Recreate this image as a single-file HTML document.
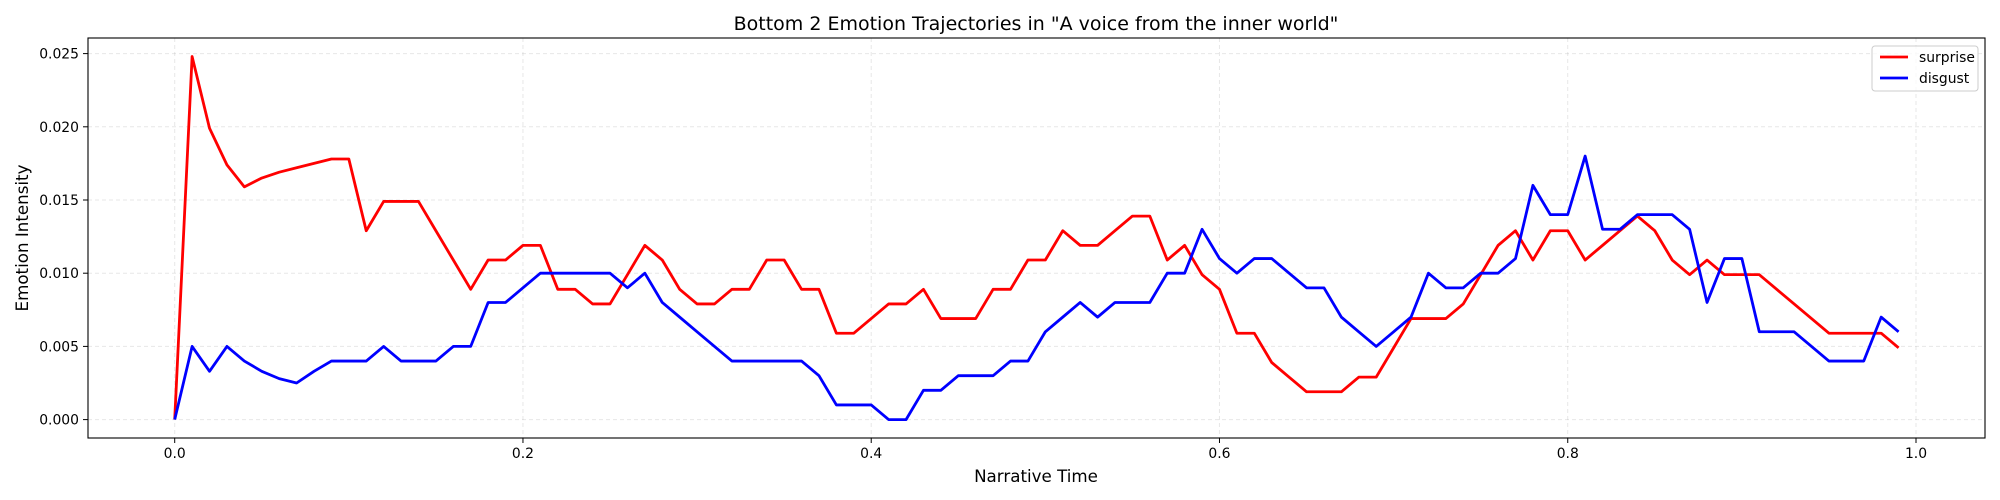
<!DOCTYPE html>
<html><head><meta charset="utf-8"><style>
body{margin:0;background:#fff}
svg{display:block;font-family:"DejaVu Sans","Liberation Sans",sans-serif}
</style></head><body>
<svg id="chart" width="2000" height="500">
<rect width="2000" height="500" fill="#fff"/>
<g id="grid"></g>
<g id="series"></g>
<rect x="88" y="38" width="1897" height="400" fill="none" stroke="#000" stroke-width="1.1"/>
<g id="ticks"></g>
<text x="1036" y="30" font-size="19" text-anchor="middle">Bottom 2 Emotion Trajectories in "A voice from the inner world"</text>
<text x="1036" y="482" font-size="16.7" text-anchor="middle">Narrative Time</text>
<text x="0" y="0" font-size="16.7" text-anchor="middle" transform="translate(28,238) rotate(-90)">Emotion Intensity</text>
<g>
<rect x="1872" y="46" width="106" height="45" rx="3" fill="#fff" fill-opacity="0.8" stroke="#ccc"/>
<g><line x1="1880" y1="57" x2="1908" y2="57" stroke="#f00" stroke-width="2.8"/><text x="1919" y="62" font-size="13.9">surprise</text></g>
<g><line x1="1880" y1="78" x2="1908" y2="78" stroke="#00f" stroke-width="2.8"/><text x="1919" y="83" font-size="13.9">disgust</text></g>
</g>
</svg>
<script>
const surprise=[0,.0248,.0199,.0174,.0159,.0165,.0169,.0172,.0175,.0178,.0178,.0129,.0149,.0149,.0149,.0129,.0109,.0089,.0109,.0109,.0119,.0119,.0089,.0089,.0079,.0079,.0099,.0119,.0109,.0089,.0079,.0079,.0089,.0089,.0109,.0109,.0089,.0089,.0059,.0059,.0069,.0079,.0079,.0089,.0069,.0069,.0069,.0089,.0089,.0109,.0109,.0129,.0119,.0119,.0129,.0139,.0139,.0109,.0119,.0099,.0089,.0059,.0059,.0039,.0029,.0019,.0019,.0019,.0029,.0029,.0049,.0069,.0069,.0069,.0079,.0099,.0119,.0129,.0109,.0129,.0129,.0109,.0119,.0129,.0139,.0129,.0109,.0099,.0109,.0099,.0099,.0099,.0089,.0079,.0069,.0059,.0059,.0059,.0059,.0049];
const disgust=[0,.005,.0033,.005,.004,.0033,.0028,.0025,.0033,.004,.004,.004,.005,.004,.004,.004,.005,.005,.008,.008,.009,.010,.010,.010,.010,.010,.009,.010,.008,.007,.006,.005,.004,.004,.004,.004,.004,.003,.001,.001,.001,0,0,.002,.002,.003,.003,.003,.004,.004,.006,.007,.008,.007,.008,.008,.008,.010,.010,.013,.011,.010,.011,.011,.010,.009,.009,.007,.006,.005,.006,.007,.010,.009,.009,.010,.010,.011,.016,.014,.014,.018,.013,.013,.014,.014,.014,.013,.008,.011,.011,.006,.006,.006,.005,.004,.004,.004,.007,.006];
const xTicks=[0,0.2,0.4,0.6,0.8,1.0];
const xTickLabels=["0.0","0.2","0.4","0.6","0.8","1.0"];
const yTicks=[0,0.005,0.010,0.015,0.020,0.025];
const yTickLabels=["0.000","0.005","0.010","0.015","0.020","0.025"];
const NS="http://www.w3.org/2000/svg";
const X=v=>174.7+v*1741.3;
const Y=v=>419.6-v*14640;
function mk(tag,attrs,parent){const e=document.createElementNS(NS,tag);for(const k in attrs)e.setAttribute(k,attrs[k]);parent.appendChild(e);return e;}
const grid=document.getElementById('grid'),ticks=document.getElementById('ticks'),series=document.getElementById('series');
xTicks.forEach((t,i)=>{
 const g=mk('line',{x1:X(t),x2:X(t),y1:38,y2:438,stroke:'#b0b0b0','stroke-opacity':0.3,'stroke-dasharray':'4,3'},grid);
 
 
 mk('line',{x1:X(t),x2:X(t),y1:438,y2:443,stroke:'#000'},ticks);
 const l=mk('text',{x:X(t),y:458,'font-size':13.9,'text-anchor':'middle'},ticks);
 l.textContent=xTickLabels[i];
 
 
});
yTicks.forEach((t,i)=>{
 const g=mk('line',{x1:88,x2:1985,y1:Y(t),y2:Y(t),stroke:'#b0b0b0','stroke-opacity':0.3,'stroke-dasharray':'4,3'},grid);
 
 
 mk('line',{x1:83,x2:88,y1:Y(t),y2:Y(t),stroke:'#000'},ticks);
 const l=mk('text',{x:79,y:Y(t)+5,'font-size':13.9,'text-anchor':'end'},ticks);
 l.textContent=yTickLabels[i];
 
 
});
function line(data,color,name){
 const pts=data.map((v,i)=>X(i/100).toFixed(2)+','+Y(v).toFixed(2)).join(' ');
 const p=mk('polyline',{points:pts,fill:'none',stroke:color,'stroke-width':2.8,'stroke-linejoin':'round'},series);
 
 
}
line(surprise,'#f00','surprise-line');
line(disgust,'#00f','disgust-line');
</script>
</body></html>
